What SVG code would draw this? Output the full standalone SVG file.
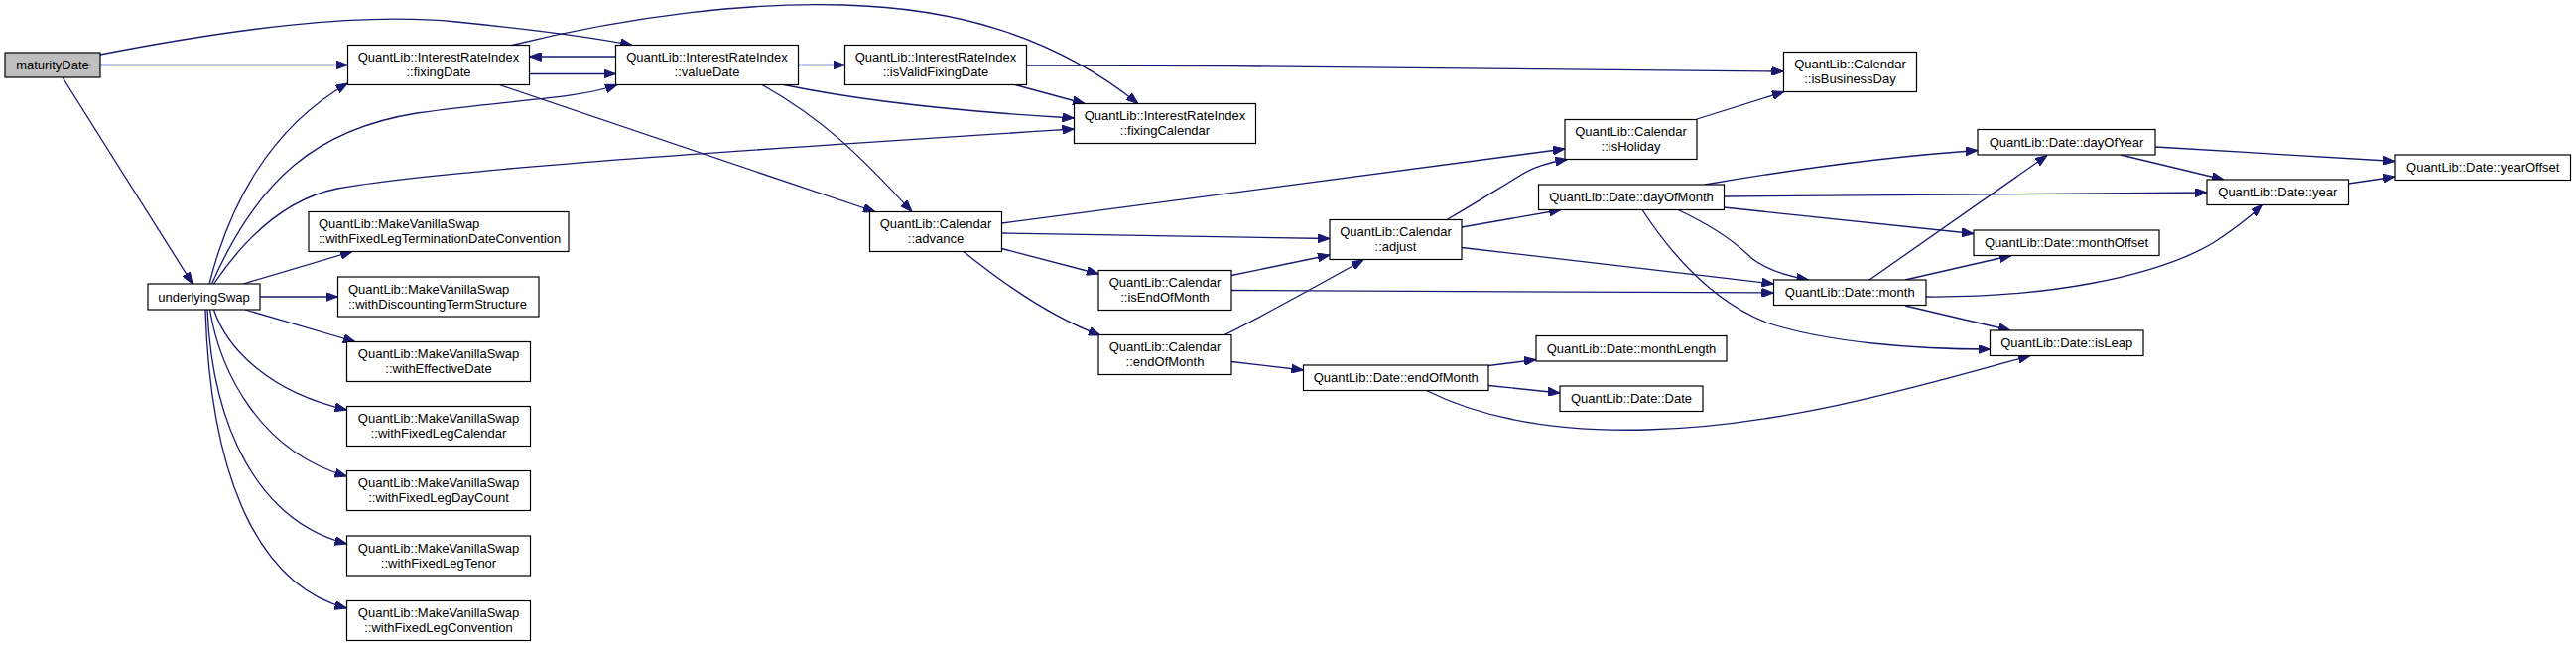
<svg xmlns="http://www.w3.org/2000/svg" width="2596" height="652" viewBox="0 0 2596 652">
<style>
.node rect{fill:#ffffff;stroke:#000000;stroke-width:1.2}
.node text{font-family:"Liberation Sans",Arial,sans-serif;font-size:13px;fill:#000000;text-anchor:middle}
.node text.l{text-anchor:start}
#n_maturityDate rect{fill:#bfbfbf}
.edges path{fill:none;stroke:#191970;stroke-width:1.3;marker-end:url(#arr)}
</style>
<defs>
<marker id="arr" markerWidth="12" markerHeight="9" refX="12" refY="4.5" orient="auto" markerUnits="userSpaceOnUse">
<path d="M0,0 L12,4.5 L0,9 z" fill="#191970" stroke="#191970" stroke-width="1"/>
</marker>
</defs>
<rect x="0" y="0" width="2596" height="652" fill="#ffffff"/>
<g class="edges">
<path d="M101,65.5 L350.5,65.5"/>
<path d="M101,55 C230,30 360,12 460,22 C540,30 600,38 637,45.5"/>
<path d="M63,78 L194,286"/>
<path d="M533.5,74.5 L620.5,74.5"/>
<path d="M620.5,57 L533.5,57"/>
<path d="M516,45.5 C640,15 760,2 850,5 C960,8 1060,35 1147,104.5"/>
<path d="M503,85.5 L882,213.5"/>
<path d="M804.5,65.5 L851.5,65.5"/>
<path d="M790,85.5 C860,100 960,112 1082.5,119"/>
<path d="M768,85.5 C830,120 870,160 919,213.5"/>
<path d="M1023,85.5 L1093,104.5"/>
<path d="M1034.5,66 C1300,66 1600,70 1797.5,72"/>
<path d="M211,286 C230,210 270,130 350.5,84"/>
<path d="M213.5,286 C260,180 320,130 420,114 C520,100 580,100 622,85.5"/>
<path d="M215.5,286 C250,235 290,200 340,190 C450,170 800,148 1082.5,130"/>
<path d="M245,286 L355,253.5"/>
<path d="M262,299 L340.5,299"/>
<path d="M247,312 L358,344.5"/>
<path d="M215.5,312 C228,350 270,395 349.5,413"/>
<path d="M211.5,312 C222,375 262,455 349.5,480"/>
<path d="M209,312 C214,430 260,525 349.5,548"/>
<path d="M207,312 C212,480 260,590 349.5,613"/>
<path d="M1009.5,225 L1577,150"/>
<path d="M1009.5,235 L1340,240.5"/>
<path d="M1009.5,250.5 L1107,276"/>
<path d="M971,253.5 C1010,285 1060,320 1109,338"/>
<path d="M1710,120 L1798,92.5"/>
<path d="M1458,221.5 C1490,203 1510,190 1530,178 C1545,168 1560,164 1579.5,160.5"/>
<path d="M1473,229 L1573,211.5"/>
<path d="M1473,249.5 L1787.5,286"/>
<path d="M1241,277.5 L1340,257"/>
<path d="M1241,292.5 L1787.5,295"/>
<path d="M1234,337.5 C1270,320 1320,292 1374,262"/>
<path d="M1241,364.5 L1313.5,373"/>
<path d="M1500,368.5 L1548,362.5"/>
<path d="M1500,388.5 L1572,396"/>
<path d="M1437.5,393.5 C1500,425 1580,435 1660,433 C1800,430 1950,385 2046,358.5"/>
<path d="M1718,186 C1800,172 1900,158 1993,151.5"/>
<path d="M1737,198 L2224,194"/>
<path d="M1737,209 L1989,235.5"/>
<path d="M1691,211.5 C1720,225 1745,240 1765,260 C1780,272 1800,278 1822.5,282"/>
<path d="M1655,211.5 C1690,265 1730,305 1780,325 C1840,345 1930,352 2005.5,352"/>
<path d="M1884,282 L2063,156.5"/>
<path d="M1920,282 L2027,257.5"/>
<path d="M1941,299 C2060,300 2170,280 2230,245 C2250,232 2268,218 2280.5,206.5"/>
<path d="M1920,308 L2026,333"/>
<path d="M2172,148 L2414,162.5"/>
<path d="M2137,156 L2241,181"/>
<path d="M2366.5,185 L2414,178"/>
</g>
<g id="n_maturityDate" class="node"><rect x="5" y="53" width="96" height="25"/><text x="53" y="70">maturityDate</text></g>
<g id="n_fixingDate" class="node"><rect x="350.5" y="45.5" width="183" height="40"/><text x="442" y="62">QuantLib::InterestRateIndex</text><text x="442" y="77">::fixingDate</text></g>
<g id="n_valueDate" class="node"><rect x="620.5" y="45.5" width="184" height="40"/><text x="712.5" y="62">QuantLib::InterestRateIndex</text><text x="712.5" y="77">::valueDate</text></g>
<g id="n_isValidFixingDate" class="node"><rect x="851.5" y="45.5" width="183" height="40"/><text x="943" y="62">QuantLib::InterestRateIndex</text><text x="943" y="77">::isValidFixingDate</text></g>
<g id="n_fixingCalendar" class="node"><rect x="1082.5" y="104.5" width="183" height="40"/><text x="1174" y="121">QuantLib::InterestRateIndex</text><text x="1174" y="136">::fixingCalendar</text></g>
<g id="n_isBusinessDay" class="node"><rect x="1797.5" y="52.5" width="134" height="40"/><text x="1864.5" y="69">QuantLib::Calendar</text><text x="1864.5" y="84">::isBusinessDay</text></g>
<g id="n_advance" class="node"><rect x="876.5" y="213.5" width="133" height="40"/><text x="943" y="230">QuantLib::Calendar</text><text x="943" y="245">::advance</text></g>
<g id="n_isHoliday" class="node"><rect x="1577" y="120.5" width="133" height="40"/><text x="1643.5" y="137">QuantLib::Calendar</text><text x="1643.5" y="152">::isHoliday</text></g>
<g id="n_adjust" class="node"><rect x="1340" y="221.5" width="133" height="40"/><text x="1406.5" y="238">QuantLib::Calendar</text><text x="1406.5" y="253">::adjust</text></g>
<g id="n_isEndOfMonth" class="node"><rect x="1107" y="272.5" width="134" height="40"/><text x="1174" y="289">QuantLib::Calendar</text><text x="1174" y="304">::isEndOfMonth</text></g>
<g id="n_calEndOfMonth" class="node"><rect x="1107" y="337.5" width="134" height="40"/><text x="1174" y="354">QuantLib::Calendar</text><text x="1174" y="369">::endOfMonth</text></g>
<g id="n_dayOfMonth" class="node"><rect x="1550.5" y="186" width="187" height="25.5"/><text x="1644" y="203">QuantLib::Date::dayOfMonth</text></g>
<g id="n_dateEndOfMonth" class="node"><rect x="1313.5" y="368" width="186.5" height="25.5"/><text x="1406.75" y="385">QuantLib::Date::endOfMonth</text></g>
<g id="n_monthLength" class="node"><rect x="1548" y="338.5" width="192" height="25.5"/><text x="1644" y="355.5">QuantLib::Date::monthLength</text></g>
<g id="n_dateDate" class="node"><rect x="1572" y="389" width="144" height="25.5"/><text x="1644" y="406">QuantLib::Date::Date</text></g>
<g id="n_month" class="node"><rect x="1787.5" y="282" width="153.5" height="25.5"/><text x="1864.25" y="299">QuantLib::Date::month</text></g>
<g id="n_dayOfYear" class="node"><rect x="1993" y="130.5" width="179" height="25.5"/><text x="2082.5" y="147.5">QuantLib::Date::dayOfYear</text></g>
<g id="n_year" class="node"><rect x="2224" y="181" width="142.5" height="25.5"/><text x="2295.25" y="198">QuantLib::Date::year</text></g>
<g id="n_yearOffset" class="node"><rect x="2414" y="156" width="176.5" height="25.5"/><text x="2502.25" y="173">QuantLib::Date::yearOffset</text></g>
<g id="n_monthOffset" class="node"><rect x="1989" y="232" width="187" height="25.5"/><text x="2082.5" y="249">QuantLib::Date::monthOffset</text></g>
<g id="n_isLeap" class="node"><rect x="2005.5" y="333" width="154.5" height="25.5"/><text x="2082.75" y="350">QuantLib::Date::isLeap</text></g>
<g id="n_underlyingSwap" class="node"><rect x="149" y="286" width="113" height="26"/><text x="205.5" y="303.5">underlyingSwap</text></g>
<g id="n_termDateConv" class="node"><rect x="311" y="213.5" width="262" height="40"/><text class="l" x="321" y="230">QuantLib::MakeVanillaSwap</text><text class="l" x="321" y="245">::withFixedLegTerminationDateConvention</text></g>
<g id="n_discTermStruct" class="node"><rect x="340.5" y="279" width="202.5" height="40"/><text class="l" x="351" y="295.5">QuantLib::MakeVanillaSwap</text><text class="l" x="351" y="310.5">::withDiscountingTermStructure</text></g>
<g id="n_effectiveDate" class="node"><rect x="349.5" y="344.5" width="185" height="40"/><text x="442" y="361">QuantLib::MakeVanillaSwap</text><text x="442" y="376">::withEffectiveDate</text></g>
<g id="n_fixedLegCalendar" class="node"><rect x="349.5" y="409.5" width="185" height="40"/><text x="442" y="426">QuantLib::MakeVanillaSwap</text><text x="442" y="441">::withFixedLegCalendar</text></g>
<g id="n_fixedLegDayCount" class="node"><rect x="349.5" y="474.5" width="185" height="40"/><text x="442" y="491">QuantLib::MakeVanillaSwap</text><text x="442" y="506">::withFixedLegDayCount</text></g>
<g id="n_fixedLegTenor" class="node"><rect x="349.5" y="540" width="185" height="40"/><text x="442" y="556.5">QuantLib::MakeVanillaSwap</text><text x="442" y="571.5">::withFixedLegTenor</text></g>
<g id="n_fixedLegConvention" class="node"><rect x="349.5" y="605.5" width="185" height="40"/><text x="442" y="622">QuantLib::MakeVanillaSwap</text><text x="442" y="637">::withFixedLegConvention</text></g>
</svg>
